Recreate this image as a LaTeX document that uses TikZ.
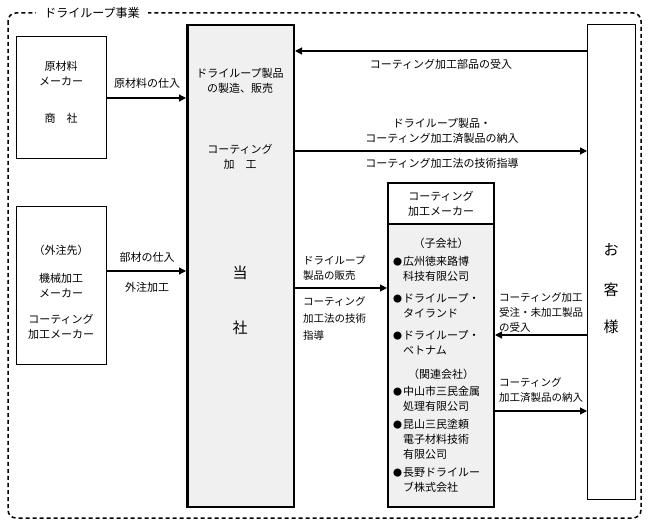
\documentclass[tikz,border=0pt]{standalone}
\usepackage{fontspec}
\setmainfont{Noto Sans CJK JP}
\usetikzlibrary{arrows.meta}
\definecolor{boxgrey}{HTML}{F0F0F0}
\tikzset{
 thinbox/.style={draw, line width=1.2pt, fill=white, anchor=north west, inner sep=0pt},
 thickbox/.style={draw, line width=2.5pt, fill=boxgrey, anchor=north west, inner sep=0pt},
 medbox/.style={draw, line width=2pt, anchor=north west, inner sep=0pt},
 arr/.style={line width=1.2pt, -{Triangle[length=7pt,width=7pt]}},
 lbl/.style={font=\fontsize{11pt}{15pt}\selectfont, align=center, inner sep=0pt},
 big/.style={font=\fontsize{15pt}{15pt}\selectfont, inner sep=0pt},
 slbl/.style={font=\fontsize{10.5pt}{15pt}\selectfont, align=left, inner sep=0pt, anchor=west},
 item/.style={font=\fontsize{11pt}{15pt}\selectfont, align=left, inner sep=0pt, anchor=west},
}
\newcommand{\bul}{\makebox[10pt][l]{\fontsize{9pt}{9pt}\selectfont ●}}
\newcommand{\ind}{\hspace*{10pt}}
\begin{document}
\begin{tikzpicture}[x=1pt,y=-1pt]
\useasboundingbox (0,0) rectangle (648,526);
% outer dashed frame
\draw[line width=1.5pt, dash pattern=on 4pt off 3pt, rounded corners=8pt] (8,13) rectangle (641,518);
\node[fill=white, inner xsep=8pt, inner ysep=2pt, font=\fontsize{12pt}{14pt}\selectfont] (title) at (92,13) {ドライループ事業};

% boxes
\node[thinbox, minimum width=89.8pt, minimum height=121.8pt] (s1) at (16,36) {};
\node[thinbox, minimum width=89.8pt, minimum height=157.8pt] (s2) at (16,206) {};
\node[thickbox, minimum width=106.5pt, minimum height=481.5pt] (tosha) at (186,24) {};
\node[thinbox, minimum width=47.8pt, minimum height=474.8pt] (cust) at (587,24) {};
\node[medbox, fill=white, minimum width=106pt, minimum height=41pt] (cmh) at (387,182) {};
\node[medbox, fill=boxgrey, minimum width=106pt, minimum height=283pt] (cmb) at (387,223) {};

% texts in s1
\node[lbl] (s1a) at (61,74) {原材料\\メーカー};
\node[lbl] (s1b) at (61,118) {商　社};
% texts in s2
\node[lbl] (s2a) at (61,250) {（外注先）};
\node[lbl] (s2b) at (61,286) {機械加工\\メーカー};
\node[lbl] (s2c) at (61,327) {コーティング\\加工メーカー};
% texts in tosha
\node[lbl] (t1) at (240,81) {ドライループ製品\\の製造、販売};
\node[lbl] (t2) at (240,157) {コーティング\\加　工};
\node[big] (t3) at (240,273) {当};
\node[big] (t4) at (240,328) {社};
% customer
\node[big] (c1) at (611,250) {お};
\node[big] (c2) at (611,290) {客};
\node[big] (c3) at (611,327) {様};
% coating maker header
\node[lbl] (h1) at (441,204) {コーティング\\加工メーカー};
% list
\node[lbl] (g1) at (441,243) {（子会社）};
\node[item] (i1) at (393,268.5) {\bul 広州徳来路博\\\ind 科技有限公司};
\node[item] (i2) at (393,305.5) {\bul ドライループ・\\\ind タイランド};
\node[item] (i3) at (393,342.5) {\bul ドライループ・\\\ind ベトナム};
\node[lbl] (g2) at (441,374) {（関連会社）};
\node[item] (i4) at (393,398.5) {\bul 中山市三民金属\\\ind 処理有限公司};
\node[item] (i5) at (393,439.5) {\bul 昆山三民塗頼\\\ind 電子材料技術\\\ind 有限公司};
\node[item] (i6) at (393,480) {\bul 長野ドライルー\\\ind ブ株式会社};

% arrows
\draw[arr] (s1.east |- 0,98) -- (tosha.west |- 0,98);
\draw[arr] (s2.east |- 0,271) -- (tosha.west |- 0,271);
\draw[arr] (cust.west |- 0,51) -- (tosha.east |- 0,51);
\draw[arr] (tosha.east |- 0,151) -- (cust.west |- 0,151);
\draw[arr] (tosha.east |- 0,288) -- (cmb.west |- 0,288);
\draw[arr] (cust.west |- 0,335) -- (cmb.east |- 0,335);
\draw[arr] (cmb.east |- 0,411) -- (cust.west |- 0,411);

% arrow labels
\node[lbl] (l1) at (147,83) {原材料の仕入};
\node[lbl] (l2) at (147,257) {部材の仕入};
\node[lbl] (l3) at (147,287) {外注加工};
\node[lbl] (l4) at (441,64) {コーティング加工部品の受入};
\node[lbl] (l5) at (442,131) {ドライループ製品・\\コーティング加工済製品の納入};
\node[lbl] (l6) at (442,163) {コーティング加工法の技術指導};
\node[slbl] (l7) at (303,268) {ドライループ\\製品の販売};
\node[slbl, font=\fontsize{10.5pt}{17pt}\selectfont] (l8) at (303,319) {コーティング\\加工法の技術\\指導};
\node[slbl] (l9) at (499,313) {コーティング加工\\受注・未加工製品\\の受入};
\node[slbl] (l10) at (499,390) {コーティング\\加工済製品の納入};
\end{tikzpicture}
\end{document}
